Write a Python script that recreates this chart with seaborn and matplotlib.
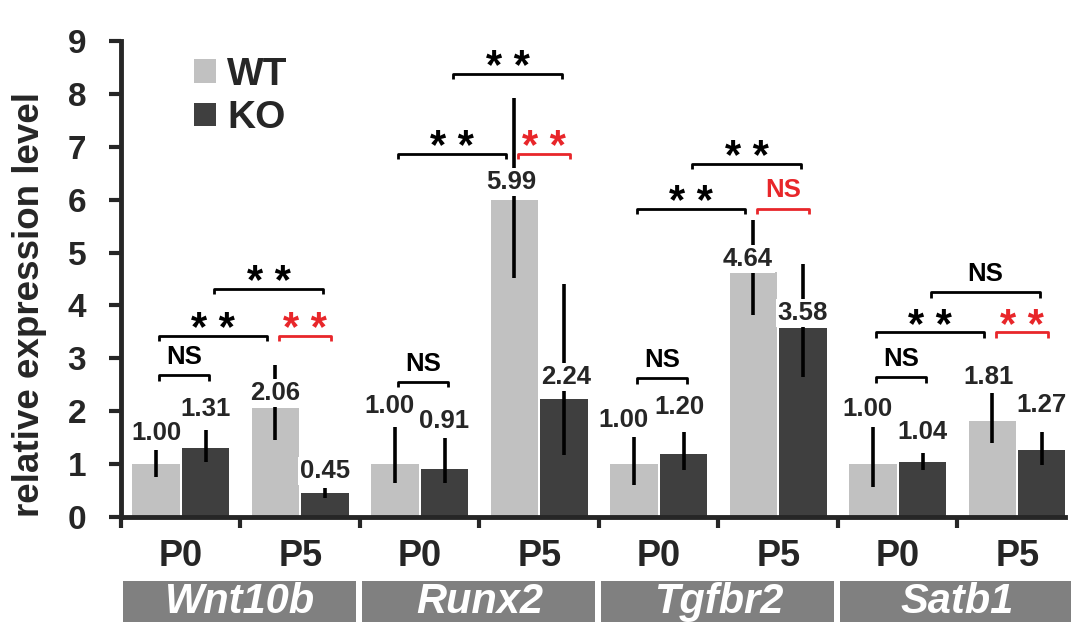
import matplotlib
matplotlib.use("Agg")
import matplotlib.pyplot as plt
import matplotlib.transforms as mtransforms
from matplotlib.patches import Patch, Rectangle
import numpy as np
import pandas as pd
import seaborn as sns

# ---------------- data ----------------
genes = ["Wnt10b", "Runx2", "Tgfbr2", "Satb1"]
stages = ["P0", "P5"]
genotypes = ["WT", "KO"]

wt_means = [1.00, 2.06, 1.00, 5.99, 1.00, 4.64, 1.00, 1.81]
ko_means = [1.31, 0.45, 0.91, 2.24, 1.20, 3.58, 1.04, 1.27]

wt_err_low = [0.75, 1.45, 0.64, 4.51, 0.60, 3.81, 0.57, 1.40]
wt_err_high = [1.26, 2.87, 1.70, 7.92, 1.51, 5.62, 1.70, 2.34]
ko_err_low = [1.04, 0.36, 0.64, 1.17, 0.89, 2.64, 0.89, 0.98]
ko_err_high = [1.64, 0.55, 1.49, 4.41, 1.60, 4.79, 1.21, 1.60]

# significance labels per gene
sig_p0 = ["NS", "NS", "NS", "NS"]          # WT P0 vs KO P0
sig_wt = ["**", "**", "**", "**"]          # WT P0 vs WT P5
sig_p5 = ["**", "**", "NS", "**"]          # WT P5 vs KO P5 (red)
sig_ko = ["**", "**", "**", "NS"]          # KO P0 vs KO P5

# ---------------- layout (not data) ----------------
br_p0_y = [2.68, 2.55, 2.62, 2.64]
br_mid_y = [3.43, 6.87, 5.83, 3.49]
br_ko_y = [4.32, 8.38, 6.68, 4.25]
wt_label_dy = [0.58, 0.29, 1.09, 0.35, 0.83, 0.23, 1.04, 0.83]
ko_label_dy = [0.74, 0.42, 0.90, 0.40, 0.88, 0.28, 0.56, 0.84]
wt_label_dx = [0.0, 0.0, -0.05, -0.03, -0.09, -0.05, -0.05, -0.03]
ko_label_dx = [0.0, 0.0, 0.0, 0.02, -0.03, 0.0, 0.0, 0.0]

WT_COL = "#c1c1c1"
KO_COL = "#3f3f3f"
RED = "#e8262a"
FONT = "Liberation Sans"

sns.set_style("ticks")
plt.rcParams["font.family"] = [FONT, "DejaVu Sans"]
plt.rcParams["font.weight"] = "bold"

conds = [f"{g} {s}" for g in genes for s in stages]
df = pd.DataFrame({
    "cond": conds * 2,
    "genotype": ["WT"] * len(conds) + ["KO"] * len(conds),
    "value": wt_means + ko_means,
})

fig = plt.figure(figsize=(10.71, 6.25), dpi=100)
ax = fig.add_axes([121 / 1071, 108 / 625, 944 / 1071, 476 / 625])

sns.barplot(data=df, x="cond", y="value", hue="genotype", order=conds,
            hue_order=genotypes, palette={"WT": WT_COL, "KO": KO_COL},
            width=0.83, gap=0.04, errorbar=None, saturation=1,
            linewidth=0, ax=ax)
if ax.legend_ is not None:
    ax.legend_.remove()

# error bars and value labels
err_sets = {"WT": (wt_means, wt_err_low, wt_err_high, wt_label_dy, wt_label_dx),
            "KO": (ko_means, ko_err_low, ko_err_high, ko_label_dy, ko_label_dx)}
for cont, gt in zip(ax.containers, genotypes):
    means, lo, hi, dys, dxs = err_sets[gt]
    xs = [p.get_x() + p.get_width() / 2 for p in cont.patches]
    m = np.array(means)
    yerr = np.vstack([m - np.array(lo), np.array(hi) - m])
    ax.errorbar(xs, m, yerr=yerr, fmt="none", ecolor="black",
                elinewidth=2.6, capsize=0, zorder=3)
    for x, v, dy, dx in zip(xs, means, dys, dxs):
        ax.text(x + dx, v + dy, f"{v:.2f}", ha="center", va="center",
                fontsize=18.5, fontweight="bold", zorder=4,
                bbox=dict(boxstyle="square,pad=0.08", fc="white", ec="none"))

# significance brackets
def bracket(x0, x1, y, label, color):
    drop = 0.1
    ax.plot([x0, x0, x1, x1], [y - drop, y, y, y - drop], color=color,
            lw=2.0, solid_capstyle="butt", zorder=5, clip_on=False)
    if label == "**":
        ax.text((x0 + x1) / 2, y - 0.10, "* *", ha="center", va="baseline",
                fontsize=30, color=color, fontweight="bold", zorder=5)
    else:
        ax.text((x0 + x1) / 2, y + 0.12, label, ha="center", va="bottom",
                fontsize=18.5, color=color, fontweight="bold", zorder=5)

for gi in range(len(genes)):
    g = gi * 2
    bracket(g - 0.18, g + 0.24, br_p0_y[gi], sig_p0[gi], "black")
    bracket(g - 0.18, g + 0.72, br_mid_y[gi], sig_wt[gi], "black")
    bracket(g + 0.82, g + 1.26, br_mid_y[gi], sig_p5[gi], RED)
    bracket(g + 0.28, g + 1.19, br_ko_y[gi], sig_ko[gi], "black")

# axes styling
ax.set_xlim(-0.5, 7.4)
ax.set_ylim(0, 9)
ax.set_yticks(range(10))
ax.set_xticks(range(len(conds)))
ax.set_xticklabels(stages * len(genes))
ax.set_xticks(np.arange(-0.5, 7.0, 1.0), minor=True)
ax.tick_params(axis="x", which="major", length=0, pad=16, labelsize=26)
ax.tick_params(axis="x", which="minor", length=8, width=3, direction="out")
ax.tick_params(axis="y", length=9, width=3, direction="out", pad=16,
               labelsize=24)
for lab in ax.get_xticklabels() + ax.get_yticklabels():
    lab.set_fontweight("bold")
sns.despine(ax=ax)
for s in ["left", "bottom"]:
    ax.spines[s].set_linewidth(3.5)
ax.set_xlabel("")
ax.set_ylabel("relative expression level", fontsize=26.5, fontweight="bold")
ax.yaxis.set_label_coords(-0.078, 0.447)

# gene boxes below the axis
trans = mtransforms.blended_transform_factory(ax.transData, ax.transAxes)
for gi, gname in enumerate(genes):
    g = gi * 2
    ax.add_patch(Rectangle((g - 0.485, -0.221), 1.955, 0.086, transform=trans,
                           fc="#808080", ec="none", clip_on=False))
    ax.text(g + 0.5, -0.178, gname, transform=trans, ha="center", va="center",
            color="white", fontsize=30, fontweight="bold", style="italic")

# legend
handles = [Patch(fc=WT_COL, ec="none"), Patch(fc=KO_COL, ec="none")]
leg = ax.legend(handles, genotypes, loc="upper left", bbox_to_anchor=(0.061, 1.0),
                frameon=False, handlelength=0.55, handleheight=0.55,
                handletextpad=0.3, labelspacing=0.2, borderaxespad=0,
                prop={"family": FONT, "weight": "bold", "size": 28})

fig.savefig("out.png", dpi=100)
